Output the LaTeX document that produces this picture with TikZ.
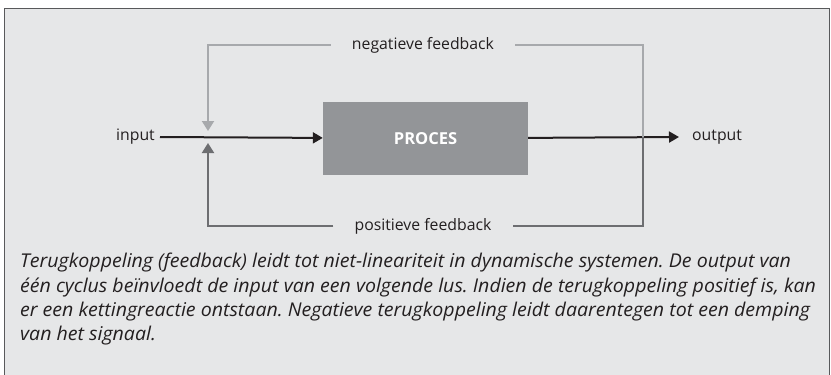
\documentclass[tikz,border=0pt]{standalone}
\usepackage{fontspec}
\setmainfont{Open Sans}
\newfontfamily\bijschriftfont[FakeStretch=1.03]{Open Sans}
\usepackage{xcolor}
\usetikzlibrary{arrows.meta,positioning,calc}

\definecolor{achtergrond}{HTML}{E6E7E8}
\definecolor{kader}{HTML}{58595B}
\definecolor{blok}{HTML}{939598}
\definecolor{licht}{HTML}{A7A9AC}
\definecolor{donker}{HTML}{6D6E71}
\definecolor{zwart}{HTML}{231F20}

\begin{document}
\frenchspacing
\begin{tikzpicture}[
  x=1pt, y=-1pt,
  lbl/.style={font=\fontsize{15.8}{18}\selectfont, text=zwart, inner sep=0pt},
  fblbl/.style={font=\fontsize{15.8}{18}\selectfont, text=zwart, inner ysep=0pt, inner xsep=21pt},
  proces/.style={fill=blok, minimum width=205pt, minimum height=73pt, inner sep=0pt,
    font=\fontsize{16.5}{18}\selectfont\bfseries, text=white},
  hoofd/.style={-{Triangle[length=10pt, width=11pt]}, line width=2pt, draw=zwart},
  neglijn/.style={line width=2pt, draw=licht},
  poslijn/.style={line width=2pt, draw=donker},
  negpijl/.style={neglijn, -{Triangle[length=10pt, width=12pt]}, shorten >=6pt},
  pospijl/.style={poslijn, -{Triangle[length=10pt, width=12pt]}, shorten >=6pt},
]
  \useasboundingbox (0,0) rectangle (831,375);
  % frame
  \draw[kader, fill=achtergrond, line width=1pt] (4,8) rectangle (829,385);

  % main line
  \node[lbl, anchor=east] (input) at (155,137) {input};
  \node[proces] (blok) at (425.5,138.5) {PROCES};
  \node[lbl, anchor=west] (output) at (692,137) {output};
  \coordinate (som) at (208,137);
  \coordinate (tak) at (643,137);

  % feedback labels
  \node[fblbl] (negfb) at (423,45) {negatieve feedback};
  \node[fblbl] (posfb) at (423,226) {positieve feedback};

  % arrows
  \draw[hoofd] ([xshift=5pt]input.east) -- (blok);
  \draw[hoofd] (blok) -- ([xshift=-13pt]output.west);
  \draw[neglijn] (negfb) -| (tak);
  \draw[negpijl] (negfb) -| (som);
  \draw[poslijn] (tak) |- (posfb);
  \draw[pospijl] (posfb) -| (som);

  % caption
  \node[anchor=north west, inner sep=0pt, align=left, text=zwart,
    font=\bijschriftfont\fontsize{19}{24.3}\selectfont\itshape] (bijschrift) at (20,253)
    {Terugkoppeling (feedback) leidt tot niet-lineariteit in dynamische systemen. De output van\\
     één cyclus beïnvloedt de input van een volgende lus. Indien de terugkoppeling positief is, kan\\
     er een kettingreactie ontstaan. Negatieve terugkoppeling leidt daarentegen tot een demping\\
     van het signaal.};
\end{tikzpicture}
\end{document}
